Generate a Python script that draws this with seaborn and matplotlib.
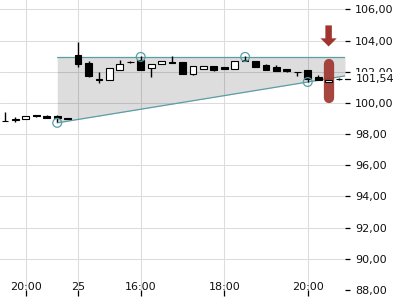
import numpy as np
import pandas as pd
import matplotlib
matplotlib.use("Agg")
import matplotlib.pyplot as plt
import seaborn as sns

# ---- data ----
opens  = [98.83, 98.94, 98.99, 99.23, 99.18, 99.16, 99.00, 103.05, 102.56, 101.52,
          101.49, 102.13, 102.62, 102.73, 102.22, 102.52, 102.65, 102.60, 101.88, 102.20,
          102.35, 102.30, 102.20, 102.75, 102.67, 102.43, 102.30, 102.15, 102.01, 102.10,
          101.66, 101.34, 101.56]
highs  = [99.39, 99.10, 99.16, 99.23, 99.20, 99.20, 99.00, 103.90, 102.67, 102.00,
          102.26, 102.78, 102.66, 103.00, 102.52, 102.70, 102.99, 102.60, 102.35, 102.35,
          102.35, 102.33, 102.70, 103.00, 102.67, 102.52, 102.40, 102.20, 102.01, 102.10,
          101.77, 101.50, 101.62]
lows   = [98.82, 98.78, 98.99, 99.10, 99.05, 98.76, 98.99, 102.30, 101.66, 101.28,
          101.49, 102.13, 102.56, 102.13, 101.69, 102.48, 102.58, 101.88, 101.80, 102.20,
          102.05, 102.17, 102.20, 102.69, 102.33, 102.13, 102.05, 102.00, 101.70, 101.34,
          101.47, 101.34, 101.48]
closes = [98.82, 98.93, 99.16, 99.14, 99.06, 99.01, 98.99, 102.52, 101.70, 101.50,
          102.26, 102.52, 102.60, 102.13, 102.52, 102.67, 102.58, 101.88, 102.35, 102.35,
          102.13, 102.20, 102.70, 102.69, 102.33, 102.13, 102.05, 102.05, 102.00, 101.56,
          101.47, 101.50, 101.54]

xtick_pos    = [2, 7, 13, 21, 29]
xtick_labels = ["20:00", "25", "16:00", "18:00", "20:00"]
ytick_vals   = [88, 90, 92, 94, 96, 98, 100, 102, 104, 106]
last_price   = 101.54

# channel pivots
pivot_idx    = [5, 13, 23, 29]
pivot_vals   = [98.72, 102.95, 102.95, 101.34]
support_pts  = ([5, 29], [98.72, 101.34])
resistance   = 102.95

# signal
signal_idx   = 31
signal_range = (100.31, 102.52)
arrow_from   = 104.97
arrow_to     = 103.62

# ---- style ----
sns.set_theme(style="whitegrid", rc={
    "grid.color": "#dcdcdc", "grid.linewidth": 0.75,
    "axes.edgecolor": "#dcdcdc",
})
plt.rcParams["font.family"] = ["DejaVu Sans"]

fig = plt.figure(figsize=(4, 3), dpi=100)
ax = fig.add_axes([0, 10/300, 345/400, 290/300])
ax.set_axisbelow(True)

xlim = (-0.48, 32.57)
ax.set_xlim(*xlim)
ax.set_ylim(88, 106.6)

teal = "#5c9ea6"
red = "#a0352f"

# channel fill and lines
slope = (support_pts[1][1] - support_pts[1][0]) / (support_pts[0][1] - support_pts[0][0])
xs = np.array([support_pts[0][0], xlim[1]])
sup = support_pts[1][0] + slope * (xs - support_pts[0][0])
ax.fill_between(xs, sup, resistance, color="black", alpha=0.135, lw=0, zorder=1)
line_df = pd.DataFrame({"x": np.concatenate([xs, xs]),
                        "y": np.concatenate([sup, [resistance, resistance]]),
                        "k": ["s", "s", "r", "r"]})
sns.lineplot(data=line_df, x="x", y="y", units="k", estimator=None,
             color=teal, lw=0.9, ax=ax, zorder=2)

# signal bar & arrow
ax.plot([signal_idx, signal_idx], list(signal_range), color=red, lw=7.4,
        solid_capstyle="round", alpha=0.92, zorder=3)
ax.arrow(signal_idx, arrow_from, 0, arrow_to - arrow_from, width=0.62,
         head_width=1.55, head_length=0.52, length_includes_head=True,
         color=red, lw=0, zorder=3)

# candles
x = np.arange(len(opens))
o = np.array(opens); c = np.array(closes)
ax.vlines(x, lows, highs, color="black", lw=1.0, zorder=4)
up = c >= o
ax.bar(x, np.abs(c - o), bottom=np.minimum(o, c), width=0.65,
       color=np.where(up, "white", "black"), edgecolor="black", lw=0.8, zorder=5)

# pivot circles
sns.scatterplot(x=pivot_idx, y=pivot_vals, ax=ax, s=40, facecolor="none",
                edgecolor=teal, linewidth=0.9, zorder=6)

# axes formatting
ax.set_xlabel(""); ax.set_ylabel("")
ax.set_xticks(xtick_pos)
ax.set_xticklabels(xtick_labels)
ax.set_yticks(ytick_vals)
ax.set_yticklabels([f"{v:.2f}".replace(".", ",") for v in ytick_vals])
ax.yaxis.tick_right()
ax.tick_params(axis="y", right=True, direction="out", length=3.6, width=0.9,
               color="black", pad=3.6, labelsize=8, labelcolor="#111111")
ax.tick_params(axis="x", bottom=True, direction="out", length=4.3, width=0.9,
               color="black", pad=-10, labelsize=8, labelcolor="#111111")
for s in ["left", "right", "top", "bottom"]:
    ax.spines[s].set_visible(False)
ax.grid(True, color="#dcdcdc", lw=0.75)

# last price label
trans = matplotlib.transforms.blended_transform_factory(ax.transAxes, ax.transData)
ax.plot([1.0, 1.0 + 5/345], [last_price, last_price], transform=trans,
        color="black", lw=0.9, clip_on=False, zorder=7)
ax.text(1.0 + 11/345, last_price, f"{last_price:.2f}".replace(".", ","),
        transform=trans, ha="left", va="center", fontsize=8, color="#111111",
        bbox=dict(facecolor="white", edgecolor="none", pad=1.2),
        clip_on=False, zorder=8)

fig.savefig("out.png", dpi=100)
